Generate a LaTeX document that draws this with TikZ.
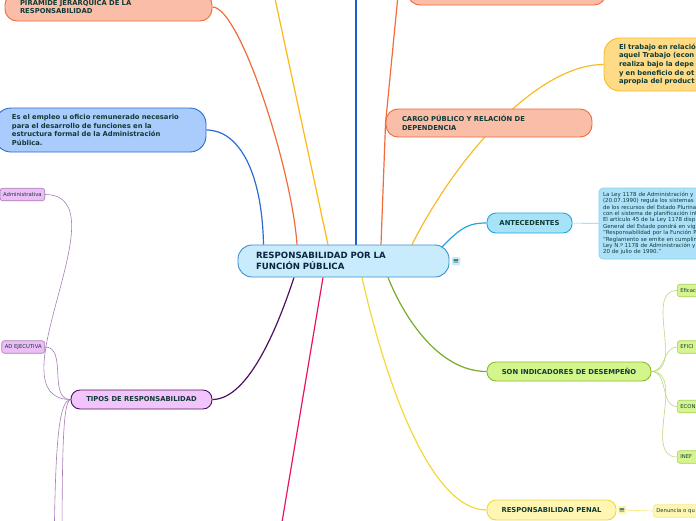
\documentclass[tikz,border=0pt]{standalone}
\usepackage{fontspec}
\setmainfont{DejaVu Sans}
\usetikzlibrary{positioning,backgrounds}
\definecolor{ink}{HTML}{0F3B36}
\definecolor{inkc}{HTML}{0C2340}
\definecolor{salmon}{HTML}{F9BDA8}
\definecolor{salmonl}{HTML}{F26B3A}
\definecolor{skyf}{HTML}{A9CCFC}
\definecolor{skyl}{HTML}{2A6BD6}
\definecolor{lilac}{HTML}{ECBDF7}
\definecolor{lilacl}{HTML}{A77DB5}
\definecolor{tipf}{HTML}{F1C4FB}
\definecolor{tipl}{HTML}{4E1060}
\definecolor{cenf}{HTML}{C9ECFC}
\definecolor{cenl}{HTML}{3B8FCF}
\definecolor{goldf}{HTML}{FFDB87}
\definecolor{goldl}{HTML}{F9BB25}
\definecolor{antf}{HTML}{A6E2F8}
\definecolor{antl}{HTML}{23A6DF}
\definecolor{antxf}{HTML}{ADE1FA}
\definecolor{antxl}{HTML}{86CFF0}
\definecolor{limef}{HTML}{D3F58B}
\definecolor{limel}{HTML}{86BD2C}
\definecolor{leaff}{HTML}{D6F590}
\definecolor{leafl}{HTML}{A8D155}
\definecolor{penf}{HTML}{FFF6B3}
\definecolor{penl}{HTML}{F2D93A}
\definecolor{magl}{HTML}{EC1166}
\definecolor{bluel}{HTML}{1C5FC9}
\definecolor{yell}{HTML}{FDB913}
\begin{document}
\begin{tikzpicture}[x=1pt, y=-1pt,
  topic/.style={draw, line width=0.9pt, font=\bfseries\fontsize{6.8}{8.5}\selectfont, text=ink, inner ysep=0pt},
  leaf/.style={draw, line width=0.6pt, rounded corners=2.5pt, font=\fontsize{5.3}{6}\selectfont, text=ink, minimum height=12.5pt, inner xsep=3pt, inner ysep=0pt},
  icon/.style={rounded corners=1pt, minimum size=8.5pt, inner sep=0pt, font=\fontsize{7.5}{7.5}\selectfont, text=ink},
  link/.style={line width=1.2pt},
  twig/.style={line width=0.6pt}]
  \useasboundingbox (0,0) rectangle (696,520);
  % central topic
  \node[topic, fill=cenf, draw=cenl, rounded corners=14pt, font=\bfseries\fontsize{8.6}{11}\selectfont, text=inkc,
        minimum height=32pt, text width=175pt, inner xsep=18pt, align=left] (c) at (343.5,261) {RESPONSABILIDAD POR LA\\FUNCIÓN PÚBLICA};
  \node[icon, fill=cenf] (cicon) at (456,261) {≡};
  % left side
  \node[topic, fill=salmon, draw=salmonl, rounded corners=12pt, minimum height=28pt, text width=177pt, inner xsep=15pt, align=left] (pir) at (108.5,7) {PIRAMIDE JERARQUICA DE LA\\RESPONSABILIDAD};
  \node[topic, fill=skyf, draw=skyl, rounded corners=16pt, minimum height=44pt, text width=177pt, inner xsep=17pt, align=left] (empleo) at (100.5,130) {Es el empleo u oficio remunerado necesario\\para el desarrollo de funciones en la\\estructura formal de la Administración\\Pública.};
  \node[topic, fill=tipf, draw=tipl, rounded corners=9pt, minimum height=19pt, minimum width=141pt] (tipos) at (141.5,399.5) {TIPOS DE RESPONSABILIDAD};
  \node[leaf, fill=lilac, draw=lilacl, anchor=east] (adm) at (45,194.5) {Administrativa};
  \node[leaf, fill=lilac, draw=lilacl, anchor=east] (eje) at (45,347) {AD EJECUTIVA};
  % right side
  \node[topic, fill=salmon, draw=salmonl, rounded corners=12pt, minimum height=26pt, minimum width=198pt] (ctop) at (507,-8) {};
  \node[topic, fill=salmon, draw=salmonl, rounded corners=12pt, minimum height=28pt, text width=174pt, inner xsep=16pt, align=left] (cargo) at (489,123) {CARGO PÚBLICO Y RELACIÓN DE\\DEPENDENCIA};
  \node[topic, fill=goldf, draw=goldl, rounded corners=16pt, minimum height=53pt, text width=150pt, inner xsep=15pt, align=left, font=\bfseries\fontsize{6.8}{8.7}\selectfont] (trabajo) at (694,64.5) {El trabajo en relació\\aquel Trabajo (econ\\realiza bajo la depe\\y en beneficio de ot\\apropia del product};
  \node[topic, fill=antf, draw=antl, rounded corners=9pt, minimum height=20pt, minimum width=85pt] (ante) at (529.5,223) {ANTECEDENTES};
  \node[draw=antxl, fill=antxf, line width=0.6pt, rounded corners=4pt, text=ink, font=\fontsize{5.5}{6.4}\selectfont,
        minimum height=71pt, text width=122pt, inner xsep=4pt, align=left] (antetext) at (664,223.5) {La Ley 1178 de Administración y\\(20.07.1990) regula los sistemas\\de los recursos del Estado Plurina\\con el sistema de planificación int\\El artículo 45 de la Ley 1178 disp\\General del Estado pondrá en vig\\"Responsabilidad por la Función P\\"Reglamento se emite en cumplim\\Ley N.º 1178 de Administración y\\20 de julio de 1990."};
  \node[topic, fill=limef, draw=limel, rounded corners=9pt, minimum height=19pt, minimum width=164pt] (indic) at (569,371.5) {SON INDICADORES DE DESEMPEÑO};
  \foreach \n/\y/\t in {g1/290.5/Eficac, g2/347/EFICI, g3/406.5/ECON, g4/457/INEF}
    \node[leaf, fill=leaff, draw=leafl, anchor=west, text width=24pt, align=left] (\n) at (677,\y) {\t};
  \node[topic, fill=penf, draw=penl, rounded corners=9pt, minimum height=20pt, minimum width=129pt] (penal) at (551.5,510) {RESPONSABILIDAD PENAL};
  \node[icon, fill=penf] (picon) at (622,510) {≡};
  \node[leaf, fill=penf, draw=penl!60, anchor=west, text width=50pt, align=left] (den) at (653,511) {Denuncia o qu};
  % free ends off the page
  \coordinate (upY) at (271,-20);
  \coordinate (upB) at (356,-20);
  \coordinate (upO) at (399,-15);
  \coordinate (downM) at (279,540);
  \coordinate (tipA) at (54,560);
  \coordinate (tipB) at (62,600);
  \begin{scope}[on background layer]
    \draw[link, salmonl] ([xshift=-46.5pt]c.north) .. controls (292,170) and (240,7) .. (pir.east);
    \draw[link, skyl] ([xshift=-80pt]c.north) .. controls (262,170) and (238,130) .. (empleo.east);
    \draw[link, yell] ([xshift=-15.5pt]c.north) -- (upY);
    \draw[link, bluel] ([xshift=12.5pt]c.north) -- (upB);
    \draw[link, salmonl] ([xshift=37.5pt]c.north) -- (cargo.west) -- (upO);
    \draw[link, goldl] ([xshift=68.5pt]c.north) .. controls (460,150) and (540,64.5) .. (trabajo.west);
    \draw[link, antl] ([xshift=-8pt,yshift=-3pt]c.north east) .. controls (462,226) and (470,223) .. (ante.west);
    \draw[twig, antxl] (ante) -- (antetext);
    \draw[link, tipl] ([xshift=-49.5pt]c.south) .. controls (280,320) and (250,399.5) .. (tipos.east);
    \draw[link, magl] ([xshift=-20.5pt]c.south) -- (downM);
    \draw[link, penl] ([xshift=18.5pt]c.south) .. controls (385,380) and (430,510) .. (penal.west);
    \draw[link, limel!90!black] ([xshift=44.5pt]c.south) .. controls (405,320) and (440,371.5) .. (indic.west);
    \foreach \g in {g1,g2,g3,g4}
      \draw[twig, leafl!80] (indic.east) to[out=0, in=180] (\g.west);
    \foreach \t in {adm,eje}
      \draw[twig, lilacl] (tipos.west) to[out=180, in=0] (\t.east);
    \draw[twig, lilacl] (tipos.west) .. controls (58,400) and (55,450) .. (tipA);
    \draw[twig, lilacl] (tipos.west) .. controls (62,402) and (62,460) .. (tipB);
    \draw[twig, penl!70] (picon) -- (den.west);
  \end{scope}
\end{tikzpicture}
\end{document}
